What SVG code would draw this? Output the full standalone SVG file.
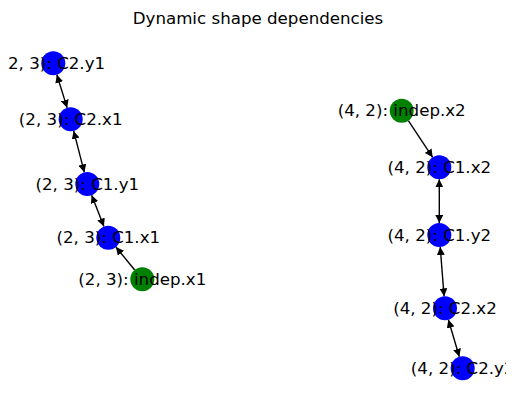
<svg xmlns="http://www.w3.org/2000/svg" width="515" height="411" viewBox="0 0 515 411">
<style>
text{font-family:"DejaVu Sans",sans-serif;font-size:16.67px;fill:#000}
.lbl{text-anchor:middle;dominant-baseline:central}
.e{stroke:#000;stroke-width:1.39;fill:none;marker-end:url(#ah)}
.d{marker-start:url(#ah)}
.blue{fill:#0000ff}
.green{fill:#008000}
</style>
<defs>
<marker id="ah" markerUnits="userSpaceOnUse" markerWidth="8" markerHeight="8" viewBox="0 0 5.6 5.6" refX="5.6" refY="2.8" orient="auto-start-reverse">
<path d="M0,0 L5.6,2.8 L0,5.6 z" fill="#000"/>
</marker>
<clipPath id="ax"><rect x="7.8" y="0" width="498.2" height="411"/></clipPath>
</defs>
<rect width="515" height="411" fill="#fff"/>
<text x="258" y="18" class="lbl">Dynamic shape dependencies</text>
<g id="connectors">
<line class="e d" x1="56.86" y1="74.76" x2="67.14" y2="107.84"/>
<line class="e d" x1="73.68" y1="130.92" x2="84.32" y2="172.38"/>
<line class="e d" x1="91.67" y1="195.18" x2="103.93" y2="226.52"/>
<line class="e" x1="134.71" y1="270.01" x2="115.89" y2="246.99"/>
<line class="e" x1="408.34" y1="120.7" x2="432.66" y2="157.3"/>
<line class="e d" x1="439.3" y1="179.3" x2="439.3" y2="223"/>
<line class="e d" x1="440.23" y1="246.96" x2="444.07" y2="296.34"/>
<line class="e d" x1="448.39" y1="319.81" x2="459.31" y2="356.79"/>
</g>
<g id="n_c2y1"><circle cx="53.3" cy="63.3" r="12" class="blue"/></g>
<g id="n_c2x1"><circle cx="70.7" cy="119.3" r="12" class="blue"/></g>
<g id="n_c1y1"><circle cx="87.3" cy="184" r="12" class="blue"/></g>
<g id="n_c1x1"><circle cx="108.3" cy="237.7" r="12" class="blue"/></g>
<g id="n_indepx1"><circle cx="142.3" cy="279.3" r="12" class="green"/></g>
<g id="n_indepx2"><circle cx="401.7" cy="110.7" r="12" class="green"/></g>
<g id="n_c1x2"><circle cx="439.3" cy="167.3" r="12" class="blue"/></g>
<g id="n_c1y2"><circle cx="439.3" cy="235" r="12" class="blue"/></g>
<g id="n_c2x2"><circle cx="445" cy="308.3" r="12" class="blue"/></g>
<g id="n_c2y2"><circle cx="462.7" cy="368.3" r="12" class="blue"/></g>
<g id="labels" clip-path="url(#ax)">
<text x="53.3" y="63.3" class="lbl">(2, 3): C2.y1</text>
<text x="70.7" y="119.3" class="lbl">(2, 3): C2.x1</text>
<text x="87.3" y="184" class="lbl">(2, 3): C1.y1</text>
<text x="108.3" y="237.7" class="lbl">(2, 3): C1.x1</text>
<text x="142.3" y="279.3" class="lbl">(2, 3): indep.x1</text>
<text x="401.7" y="110.7" class="lbl">(4, 2): indep.x2</text>
<text x="439.3" y="167.3" class="lbl">(4, 2): C1.x2</text>
<text x="439.3" y="235" class="lbl">(4, 2): C1.y2</text>
<text x="445" y="308.3" class="lbl">(4, 2): C2.x2</text>
<text x="462.7" y="368.3" class="lbl">(4, 2): C2.y2</text>
</g>
</svg>
